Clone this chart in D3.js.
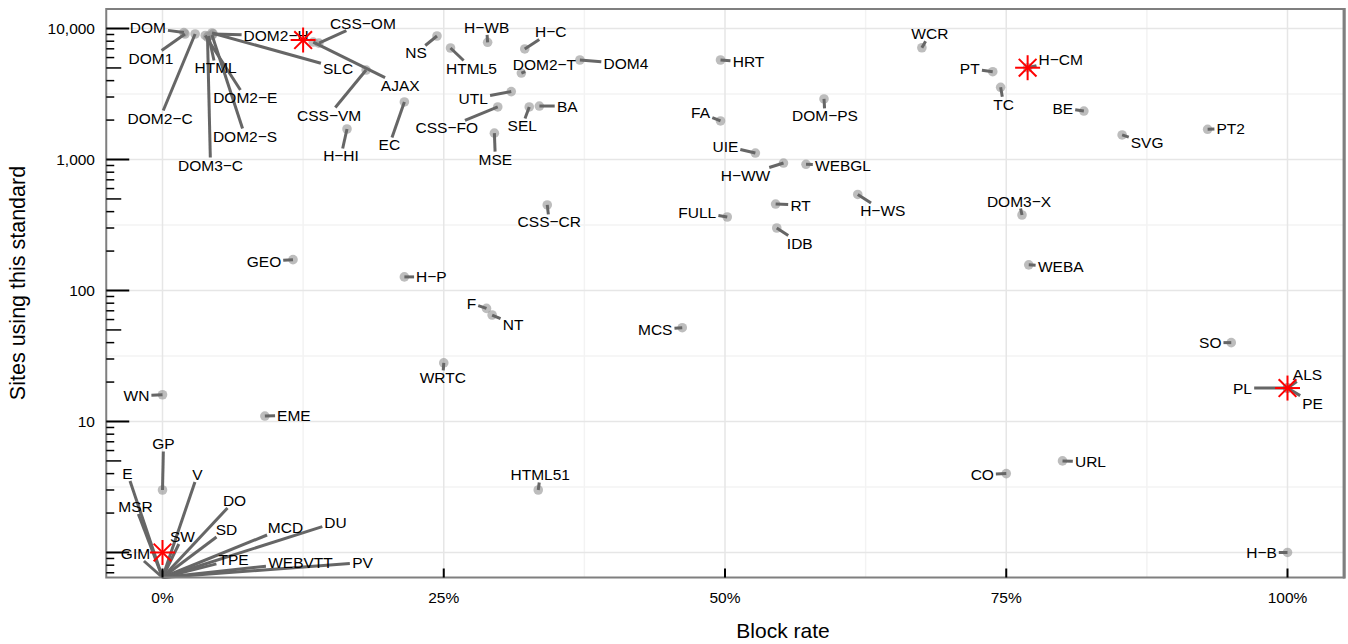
<!DOCTYPE html>
<html>
<head>
<meta charset="utf-8">
<script src="https://cdn.jsdelivr.net/npm/d3@7"></script>
<style>
	body { margin: 0; background: #fff; }
	svg text { font-family: "Liberation Sans", Arial, sans-serif; fill: #000; }
</style>
</head>
<body>
<div id="BlockChartView"></div>
<script>

// one entry per web standard
var standards = ["DOM","DOM1","DOM2-C","HTML","DOM2-E","DOM2-S","DOM3-C","DOM2-H","SLC","CSS-OM",
	"AJAX","CSS-VM","H-HI","EC","NS","H-WB","HTML5","H-C","DOM2-T","DOM4",
	"HRT","UTL","CSS-FO","SEL","BA","MSE","FA","UIE","H-WW","WCR",
	"PT","H-CM","TC","BE","SVG","PT2","DOM-PS","WEBGL","CSS-CR","H-P",
	"F","NT","MCS","WRTC","RT","FULL","IDB","H-WS","DOM3-X","WEBA",
	"URL","CO","GEO","WN","EME","SO","ALS","PL","PE","H-B",
	"HTML51","GP","E","MSR","GIM","SW","V","DO","SD","MCD",
	"DU","TPE","WEBVTT","PV"];

var blockRate = [0.019,0.020,0.029,0.041,0.038,0.044,0.040,0.045,0.044,0.139,
	0.134,0.181,0.164,0.215,0.244,0.289,0.256,0.322,0.319,0.371,
	0.496,0.310,0.298,0.326,0.335,0.295,0.496,0.527,0.552,0.675,
	0.738,0.769,0.745,0.819,0.853,0.929,0.588,0.572,0.342,0.215,
	0.288,0.293,0.462,0.250,0.545,0.502,0.546,0.618,0.764,0.770,
	0.800,0.750,0.116,0,0.091,0.950,1,1,1,1,
	0.334,0,0,0,0,0,0,0,0,0,
	0,0,0,0];

var sitesUsing = [9310,9080,9080,8770,8850,8920,8610,9100,9240,7740,
	7880,4820,1710,2750,8770,7850,7100,6980,4570,5750,
	5750,3300,2520,2520,2560,1590,1970,1120,940,7130,
	4680,5020,3560,2345,1540,1700,2900,919,450,127,
	73,65,52,28,457,364,300,541,377,157,
	5,4,172,16,11,40,18,18,18,1,
	3,3,0,0,0,0,0,0,0,0,
	0,0,0,0];

// highlighted standards (red asterisks)
var starRate = [0.125, 0.769, 1, 0];
var starSites = [8170, 5020, 18, 1];

// where the repelled labels ended up, pixels from their point
var labelOffsets = [[-36,-5],[-34,24],[-35,84],[7,32],[40,62],[33,101],[3,128],[63,2],[126,35],[44,-20],
	[87,43],[-37,45],[-6,27],[-15,43],[-21,17],[-1,-15],[21,20],[26,-17],[23,-9],[46,4],
	[28,2],[-38,7],[-51,21],[-7,19],[28,0],[1,26],[-20,-8],[-30,-7],[-38,12],[8,-14],
	[-23,-3],[33,-8],[3,17],[-21,-3],[25,8],[23,-1],[1,17],[37,1],[2,17],[27,0],
	[-15,-5],[21,9],[-27,2],[-1,15],[25,1],[-30,-5],[23,15],[25,16],[-3,-14],[32,2],
	[28,1],[-24,1],[-29,2],[-26,1],[29,-1],[-21,0],[20,-14],[-45,0],[25,15],[-26,0],
	[2,-15],[1,-46],[-35,-104],[-27,-71],[-27,-24],[20,-41],[35,-103],[72,-77],[64,-48],[123,-50],
	[173,-55],[71,-18],[138,-15],[200,-15]];

var xTicks = [0, 0.25, 0.5, 0.75, 1];
var xTickLabels = ["0%", "25%", "50%", "75%", "100%"];
var yTicks = [10, 100, 1000, 10000];
var yTickLabels = ["10", "100", "1,000", "10,000"];

BlockChart = function(){
	this.svg = null;
	this.x = null;
	this.y = null;
	this.init();
};

BlockChart.prototype.init = function(){

	this.svg = d3.select(BlockChart.div)
				.append("svg")
				.attr("width", BlockChart.width)
				.attr("height", BlockChart.height);

	this.x = d3.scaleLinear()
				.domain([-0.05, 1.05])
				.range([BlockChart.left, BlockChart.right]);

	this.y = d3.scaleLog()
				.domain([Math.pow(10, -0.191), Math.pow(10, 4.149)])
				.range([BlockChart.bottom, BlockChart.top])
				.clamp(true);
};

BlockChart.prototype.drawGrid = function(){

	var x = this.x, y = this.y;
	var g = this.svg.append("g");
	var xMinor = [0.125, 0.375, 0.625, 0.875];
	var yMinor = [1, 10, 100, 1000].map(function(d){ return d * Math.sqrt(10); });
	var yMajor = [1].concat(yTicks);

	g.selectAll(".xminor").data(xMinor).enter().append("line")
		.attr("x1", x).attr("x2", x)
		.attr("y1", BlockChart.top).attr("y2", BlockChart.bottom)
		.attr("stroke", "#f3f3f3").attr("stroke-width", 1.5);

	g.selectAll(".yminor").data(yMinor).enter().append("line")
		.attr("x1", BlockChart.left).attr("x2", BlockChart.right)
		.attr("y1", y).attr("y2", y)
		.attr("stroke", "#f3f3f3").attr("stroke-width", 1.5);

	g.selectAll(".xmajor").data(xTicks).enter().append("line")
		.attr("x1", x).attr("x2", x)
		.attr("y1", BlockChart.top).attr("y2", BlockChart.bottom)
		.attr("stroke", "#e6e6e6").attr("stroke-width", 1.5);

	g.selectAll(".ymajor").data(yMajor).enter().append("line")
		.attr("x1", BlockChart.left).attr("x2", BlockChart.right)
		.attr("y1", y).attr("y2", y)
		.attr("stroke", "#e6e6e6").attr("stroke-width", 1.5);
};

BlockChart.prototype.drawAxes = function(){

	var x = this.x, y = this.y;
	var g = this.svg.append("g");

	// panel border
	g.append("rect")
		.attr("x", BlockChart.left).attr("y", BlockChart.top)
		.attr("width", BlockChart.right - BlockChart.left)
		.attr("height", BlockChart.bottom - BlockChart.top)
		.attr("fill", "none").attr("stroke", "#7f7f7f").attr("stroke-width", 2);
	g.append("line")
		.attr("x1", BlockChart.right + 0.5).attr("x2", BlockChart.right + 0.5)
		.attr("y1", BlockChart.top - 1).attr("y2", BlockChart.bottom + 1)
		.attr("stroke", "#7f7f7f").attr("stroke-width", 3);

	// log ticks on the left
	var dom = y.domain(), logTicks = [];
	[0.1, 1, 10, 100, 1000, 10000].forEach(function(dec){
		for (var k = 1; k <= 9; k++){
			var v = dec * k;
			if (v >= dom[0] && v <= dom[1]) logTicks.push({v: v, len: k == 1 ? 23 : (k == 5 ? 15 : 8)});
		}
	});
	g.selectAll(".logtick").data(logTicks).enter().append("line")
		.attr("x1", BlockChart.left).attr("x2", function(d){ return BlockChart.left + d.len; })
		.attr("y1", function(d){ return y(d.v); }).attr("y2", function(d){ return y(d.v); })
		.attr("stroke", "#000").attr("stroke-width", function(d){ return d.len > 20 ? 2 : 1.5; });

	g.selectAll(".xtick").data(xTicks).enter().append("line")
		.attr("x1", x).attr("x2", x)
		.attr("y1", BlockChart.bottom).attr("y2", BlockChart.bottom - 9)
		.attr("stroke", "#000").attr("stroke-width", 2);

	g.selectAll(".xlab").data(xTicks).enter().append("text")
		.attr("x", x).attr("y", 597)
		.attr("text-anchor", "middle").attr("dominant-baseline", "central")
		.style("font-size", "15.5px")
		.text(function(d, i){ return xTickLabels[i]; });

	g.selectAll(".ylab").data(yTicks).enter().append("text")
		.attr("x", 95).attr("y", y)
		.attr("text-anchor", "end").attr("dominant-baseline", "central")
		.style("font-size", "15.5px")
		.text(function(d, i){ return yTickLabels[i]; });

	g.append("text")
		.attr("x", 783).attr("y", 630)
		.attr("text-anchor", "middle").attr("dominant-baseline", "central")
		.style("font-size", "21px")
		.text("Block rate");

	g.append("text")
		.attr("transform", "translate(18,283) rotate(-90)")
		.attr("text-anchor", "middle").attr("dominant-baseline", "central")
		.style("font-size", "21.5px")
		.text("Sites using this standard");
};

// where the line from the point meets the label's box
BlockChart.segmentEnd = function(px, py, cx, cy, w, h){
	var dx = px - cx, dy = py - cy;
	if (Math.abs(dx) <= w && Math.abs(dy) <= h) return null;
	var t = Math.abs(dx) / w > Math.abs(dy) / h ? w / Math.abs(dx) : h / Math.abs(dy);
	return [cx + dx * t, cy + dy * t];
};

BlockChart.prototype.drawPoints = function(){

	var x = this.x, y = this.y;
	var gPts = this.svg.append("g");
	var gSeg = this.svg.append("g");
	var gLab = this.svg.append("g");
	var gStar = this.svg.append("g");

	standards.forEach(function(name, i){

		var px = x(blockRate[i]), py = y(sitesUsing[i]);
		var cx = px + labelOffsets[i][0], cy = py + labelOffsets[i][1];

		if (sitesUsing[i] > 0){
			gPts.append("circle")
				.attr("cx", px).attr("cy", py).attr("r", 4.8)
				.attr("fill", "#9a9a9a").attr("fill-opacity", 0.65);
		}

		var label = gLab.append("text")
			.attr("x", cx).attr("y", cy)
			.attr("text-anchor", "middle").attr("dominant-baseline", "central")
			.style("font-size", "15.5px")
			.text(name.replace(/-/g, "\u2212"));

		var bb = label.node().getBBox();
		var end = BlockChart.segmentEnd(px, py, cx, cy, bb.width / 2 + 2, bb.height / 2 - 1);
		if (end){
			gSeg.append("line")
				.attr("x1", px).attr("y1", py)
				.attr("x2", end[0]).attr("y2", end[1])
				.attr("stroke", "#666").attr("stroke-width", 3);
		}
	});

	// asterisks for the highlighted ones
	var arms = [0, 45, 90, 135];
	starRate.forEach(function(r, i){
		var sx = x(r), sy = y(starSites[i]);
		arms.forEach(function(a){
			var rad = a * Math.PI / 180, len = 12.5;
			gStar.append("line")
				.attr("x1", sx - Math.cos(rad) * len).attr("y1", sy - Math.sin(rad) * len)
				.attr("x2", sx + Math.cos(rad) * len).attr("y2", sy + Math.sin(rad) * len)
				.attr("stroke", "#ff0000").attr("stroke-width", 2);
		});
	});
};

BlockChart.prototype.render = function(){
	this.drawGrid();
	this.drawPoints();
	this.drawAxes();
};

BlockChart.width = 1348;
BlockChart.height = 644;
BlockChart.left = 106.25;
BlockChart.right = 1343.75;
BlockChart.top = 9;
BlockChart.bottom = 577.5;
BlockChart.div = "#BlockChartView";

var chart = new BlockChart();
chart.render();

</script>
</body>
</html>
